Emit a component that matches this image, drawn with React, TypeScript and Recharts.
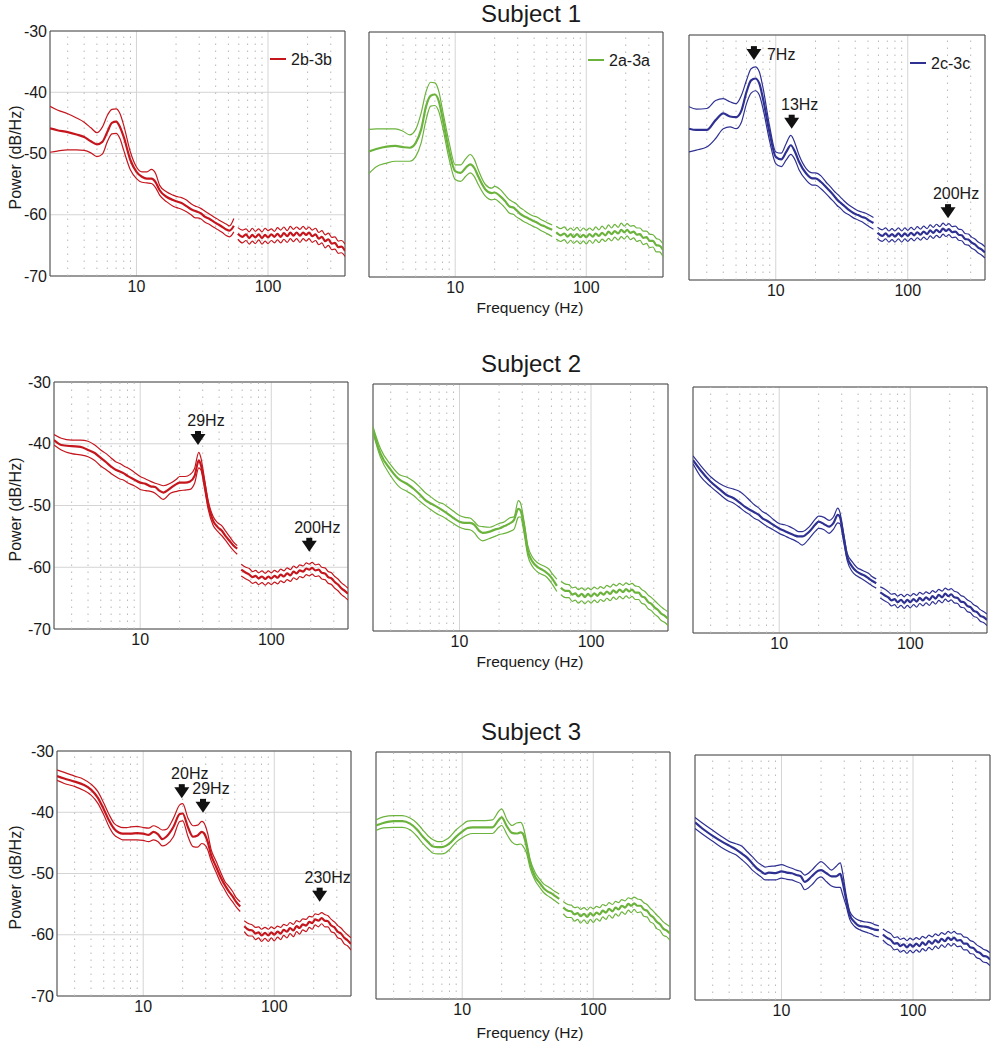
import { LineChart, Line, XAxis, YAxis, CartesianGrid, ReferenceLine, ReferenceDot, ReferenceArea } from "recharts"

const FONT = '"Liberation Sans", Arial, Helvetica, sans-serif'

// frequency grid (Hz); 57 Hz is the notch gap
const freqHz = [
  2.2, 2.5, 3, 3.5, 4, 4.5, 5, 5.5, 6, 6.5, 7, 7.5, 8, 9, 10, 11, 12, 13, 14, 15, 17, 19, 20, 22, 24, 26, 28, 29, 31, 33, 36, 39, 42, 45, 48, 51, 55,
  57,
  59, 64, 68, 72, 76, 80, 85, 90, 95, 100, 106, 112, 118, 125, 132, 140, 148, 156, 165, 175, 185, 195, 205, 217, 230, 243, 257, 272, 288, 305, 323, 342, 362, 385,
]

// Subject 1
const s1RedMean = [
  -45.9, -46.2, -46.5, -46.9, -47.3, -48.0, -48.5, -48.1, -46.5, -45.0, -44.8, -45.7, -47.3, -51.1, -53.0, -53.8, -54.1, -54.1, -54.7, -56.0, -57.1, -57.6, -57.8, -58.1, -58.6, -59.1, -59.4, -59.5, -59.8, -60.3, -60.7, -61.2, -61.6, -62.0, -62.4, -62.6, -61.8,
  null,
  -63.1, -63.6, -63.2, -63.8, -63.3, -63.7, -63.2, -63.8, -63.3, -63.7, -63.2, -63.6, -63.1, -63.6, -63.0, -63.5, -62.9, -63.4, -62.9, -63.4, -62.9, -63.3, -62.9, -63.5, -63.2, -63.9, -63.6, -64.3, -64.0, -64.7, -64.6, -65.3, -65.2, -65.9,
]
const s1RedUpper = [
  -42.3, -42.9, -43.5, -44.2, -44.9, -45.8, -46.6, -45.7, -43.8, -42.8, -42.7, -43.5, -45.4, -49.8, -52.2, -53.0, -53.0, -52.6, -53.3, -55.2, -56.3, -56.8, -57.0, -57.2, -57.6, -58.2, -58.6, -58.7, -59.0, -59.4, -59.9, -60.4, -60.8, -61.2, -61.5, -61.8, -60.6,
  null,
  -62.1, -62.5, -62.3, -62.8, -62.2, -62.7, -62.3, -62.8, -62.2, -62.6, -62.3, -62.7, -62.1, -62.5, -62.0, -62.6, -61.9, -62.4, -62.0, -62.4, -61.9, -62.4, -62.0, -62.5, -62.2, -62.9, -62.6, -63.3, -63.0, -63.7, -63.6, -64.3, -64.2, -64.8,
]
const s1RedLower = [
  -49.8, -49.6, -49.4, -49.4, -49.5, -49.9, -50.5, -50.1, -48.1, -46.8, -46.7, -47.6, -49.5, -52.7, -54.1, -54.7, -54.8, -54.9, -55.6, -56.8, -57.9, -58.6, -58.8, -59.1, -59.5, -60.0, -60.5, -60.5, -60.7, -61.2, -61.6, -62.1, -62.5, -62.9, -63.4, -63.6, -62.8,
  null,
  -64.0, -64.6, -64.2, -64.8, -64.3, -64.7, -64.1, -64.8, -64.3, -64.7, -64.2, -64.6, -64.1, -64.6, -64.0, -64.5, -63.9, -64.4, -63.9, -64.5, -63.9, -64.3, -63.9, -64.5, -64.2, -64.9, -64.6, -65.4, -65.0, -65.7, -65.6, -66.3, -66.2, -66.8,
]
const s1GreenMean = [
  -49.5, -49.1, -48.7, -48.6, -48.8, -48.9, -48.1, -45.9, -42.1, -40.4, -40.2, -41.3, -44.0, -49.5, -52.7, -53.0, -52.2, -51.6, -52.2, -53.6, -55.7, -56.3, -56.2, -56.8, -57.6, -58.5, -58.7, -59.0, -59.6, -60.0, -60.4, -60.8, -61.1, -61.5, -61.7, -62.0, -62.3,
  null,
  -62.7, -63.2, -62.9, -63.4, -63.0, -63.5, -63.0, -63.5, -63.1, -63.5, -63.0, -63.4, -62.9, -63.3, -62.8, -63.2, -62.6, -63.0, -62.5, -62.9, -62.3, -62.7, -62.3, -62.8, -62.6, -63.1, -63.0, -63.6, -63.5, -64.1, -64.1, -64.8, -64.9, -65.6,
]
const s1GreenUpper = [
  -45.9, -45.8, -45.8, -45.8, -46.2, -46.8, -45.9, -43.2, -39.7, -38.2, -38.3, -39.7, -42.7, -48.1, -51.7, -51.7, -50.7, -50.0, -50.8, -52.5, -54.9, -55.5, -55.2, -55.7, -56.6, -57.4, -57.8, -58.0, -58.6, -59.0, -59.6, -60.0, -60.2, -60.6, -60.9, -61.2, -61.5,
  null,
  -61.7, -62.1, -61.8, -62.4, -62.0, -62.4, -61.9, -62.5, -62.0, -62.4, -62.0, -62.4, -61.8, -62.3, -61.7, -62.2, -61.5, -62.0, -61.4, -61.9, -61.2, -61.7, -61.3, -61.7, -61.6, -62.0, -62.0, -62.5, -62.5, -63.0, -63.1, -63.7, -63.9, -64.6,
]
const s1GreenLower = [
  -53.1, -52.0, -51.4, -51.1, -51.1, -51.1, -50.3, -48.1, -44.3, -42.1, -42.0, -43.0, -45.4, -50.8, -54.1, -54.4, -53.6, -53.0, -53.6, -54.9, -56.8, -57.4, -57.3, -57.9, -58.7, -59.6, -59.8, -60.1, -60.5, -60.9, -61.3, -61.7, -62.0, -62.4, -62.7, -63.0, -63.4,
  null,
  -63.8, -64.2, -63.9, -64.5, -64.0, -64.5, -64.1, -64.6, -64.1, -64.6, -64.0, -64.5, -63.9, -64.4, -63.8, -64.2, -63.7, -64.1, -63.5, -64.0, -63.4, -63.8, -63.3, -63.9, -63.6, -64.2, -64.0, -64.7, -64.5, -65.2, -65.1, -65.9, -65.9, -66.7,
]
const s1BlueMean = [
  -45.3, -45.5, -45.5, -43.9, -42.8, -43.3, -43.4, -42.3, -39.3, -37.4, -37.1, -37.9, -40.4, -46.1, -49.9, -50.3, -49.1, -48.0, -49.1, -50.7, -52.6, -53.4, -53.4, -54.0, -54.8, -55.6, -56.4, -56.8, -57.4, -57.9, -58.6, -59.1, -59.4, -59.7, -59.9, -60.3, -60.7,
  null,
  -62.3, -62.8, -62.4, -62.9, -62.5, -62.9, -62.4, -62.9, -62.4, -62.8, -62.3, -62.7, -62.2, -62.6, -62.1, -62.5, -61.9, -62.3, -61.8, -62.2, -61.6, -62.0, -61.7, -62.2, -62.1, -62.6, -62.7, -63.3, -63.4, -63.9, -64.2, -64.7, -65.0, -65.5,
]
const s1BlueUpper = [
  -41.7, -42.1, -42.0, -40.7, -40.4, -40.9, -41.2, -39.8, -37.4, -35.5, -35.2, -36.0, -38.6, -45.0, -49.1, -49.3, -47.7, -46.4, -47.7, -49.6, -51.8, -52.5, -52.5, -53.0, -54.0, -54.8, -55.6, -55.9, -56.5, -57.1, -57.8, -58.3, -58.7, -58.9, -59.1, -59.4, -59.8,
  null,
  -61.4, -61.8, -61.5, -62.0, -61.6, -62.0, -61.5, -62.0, -61.5, -61.9, -61.4, -61.8, -61.3, -61.7, -61.2, -61.6, -61.0, -61.4, -60.9, -61.3, -60.7, -61.1, -60.8, -61.3, -61.2, -61.7, -61.8, -62.4, -62.5, -63.0, -63.3, -63.8, -64.1, -64.6,
]
const s1BlueLower = [
  -49.1, -48.8, -48.3, -46.9, -45.3, -45.0, -45.3, -44.2, -41.2, -39.5, -39.1, -39.8, -42.0, -47.4, -51.0, -51.5, -50.4, -49.5, -50.4, -52.0, -53.7, -54.5, -54.5, -55.1, -55.9, -56.7, -57.4, -57.8, -58.3, -58.9, -59.4, -59.9, -60.2, -60.5, -60.9, -61.3, -61.7,
  null,
  -63.2, -63.7, -63.3, -63.8, -63.4, -63.8, -63.3, -63.8, -63.3, -63.7, -63.2, -63.6, -63.1, -63.5, -63.0, -63.4, -62.8, -63.2, -62.7, -63.1, -62.5, -62.9, -62.6, -63.1, -63.0, -63.5, -63.6, -64.2, -64.3, -64.8, -65.1, -65.6, -65.9, -66.4,
]

// Subject 2
const s2RedMean = [
  -39.4, -40.2, -40.4, -40.5, -41.0, -41.5, -42.3, -43.0, -43.7, -44.2, -44.5, -44.8, -45.2, -45.8, -46.3, -46.5, -46.9, -47.0, -47.6, -47.9, -47.2, -46.5, -46.3, -46.3, -46.1, -45.2, -42.7, -43.4, -46.5, -49.8, -52.5, -53.5, -54.1, -55.0, -55.7, -56.4, -57.0,
  null,
  -60.4, -60.9, -61.2, -61.6, -61.4, -61.8, -61.5, -61.9, -61.5, -61.8, -61.4, -61.7, -61.2, -61.5, -61.0, -61.3, -60.7, -61.0, -60.5, -60.7, -60.2, -60.4, -60.1, -60.5, -60.4, -60.9, -61.0, -61.6, -61.8, -62.4, -62.8, -63.4, -63.8, -64.3,
]
const s2RedUpper = [
  -38.5, -39.1, -39.4, -39.4, -39.6, -40.2, -41.0, -41.6, -42.3, -42.9, -43.2, -43.6, -43.9, -44.6, -45.3, -45.7, -46.1, -46.4, -46.6, -46.8, -46.4, -45.7, -45.3, -45.3, -45.0, -44.0, -41.4, -42.2, -45.8, -49.2, -51.8, -52.8, -53.3, -54.2, -55.0, -55.8, -56.5,
  null,
  -59.5, -60.0, -60.2, -60.7, -60.5, -60.9, -60.6, -61.0, -60.6, -60.9, -60.5, -60.8, -60.3, -60.6, -60.1, -60.4, -59.8, -60.1, -59.6, -59.8, -59.3, -59.5, -59.2, -59.6, -59.5, -60.0, -60.1, -60.7, -60.9, -61.5, -61.9, -62.5, -62.9, -63.4,
]
const s2RedLower = [
  -40.2, -41.0, -41.6, -41.8, -42.1, -42.7, -43.6, -44.2, -44.8, -45.3, -45.7, -45.9, -46.3, -46.8, -47.4, -47.6, -47.7, -48.0, -48.6, -49.0, -48.0, -47.7, -47.6, -47.5, -47.4, -46.4, -43.9, -44.2, -47.3, -50.6, -53.2, -54.2, -54.9, -55.7, -56.5, -57.2, -57.9,
  null,
  -61.4, -61.9, -62.2, -62.6, -62.4, -62.8, -62.5, -62.9, -62.5, -62.8, -62.4, -62.7, -62.2, -62.5, -62.0, -62.3, -61.7, -62.0, -61.5, -61.7, -61.2, -61.4, -61.1, -61.5, -61.4, -61.9, -62.0, -62.6, -62.8, -63.4, -63.8, -64.4, -64.8, -65.3,
]
const s2GreenMean = [
  -37.4, -41.2, -43.9, -45.5, -46.2, -47.0, -47.9, -48.8, -49.3, -49.7, -50.1, -50.5, -50.9, -51.7, -52.3, -52.5, -52.5, -52.8, -53.7, -54.1, -53.9, -53.5, -53.4, -53.0, -52.6, -52.0, -50.2, -50.4, -53.1, -56.9, -58.8, -59.6, -60.0, -60.4, -60.9, -61.6, -62.7,
  null,
  -63.0, -63.5, -63.5, -64.1, -63.9, -64.4, -64.0, -64.5, -64.0, -64.4, -63.9, -64.3, -63.8, -64.1, -63.6, -64.0, -63.4, -63.8, -63.3, -63.7, -63.2, -63.6, -63.3, -63.8, -63.8, -64.4, -64.6, -65.3, -65.6, -66.2, -66.6, -67.2, -67.5, -68.0,
]
const s2GreenUpper = [
  -36.9, -40.4, -43.1, -44.7, -45.1, -45.8, -46.7, -47.6, -48.2, -48.8, -49.2, -49.4, -49.8, -50.6, -51.3, -51.6, -51.7, -52.3, -53.0, -53.1, -53.2, -52.8, -52.6, -52.3, -51.7, -51.5, -48.9, -49.2, -52.3, -56.1, -58.1, -58.9, -59.3, -59.6, -60.0, -60.8, -61.6,
  null,
  -62.0, -62.4, -62.5, -63.0, -62.9, -63.3, -63.0, -63.4, -63.0, -63.3, -62.9, -63.2, -62.8, -63.1, -62.6, -62.9, -62.4, -62.7, -62.3, -62.6, -62.2, -62.5, -62.3, -62.7, -62.8, -63.3, -63.6, -64.2, -64.6, -65.1, -65.6, -66.1, -66.5, -66.9,
]
const s2GreenLower = [
  -37.9, -41.8, -44.9, -46.7, -47.4, -48.1, -49.0, -49.7, -50.3, -50.8, -51.2, -51.5, -51.9, -52.6, -53.2, -53.5, -53.6, -54.1, -55.0, -55.4, -55.0, -54.6, -54.4, -54.2, -53.9, -53.5, -51.6, -51.5, -54.2, -57.7, -59.6, -60.4, -60.8, -61.1, -61.7, -62.5, -63.6,
  null,
  -64.1, -64.6, -64.6, -65.2, -65.0, -65.5, -65.1, -65.6, -65.1, -65.5, -65.0, -65.4, -64.9, -65.2, -64.7, -65.1, -64.5, -64.9, -64.4, -64.8, -64.3, -64.7, -64.4, -64.9, -64.9, -65.5, -65.7, -66.4, -66.7, -67.3, -67.7, -68.3, -68.6, -69.1,
]
const s2BlueMean = [
  -41.9, -43.5, -45.4, -46.6, -47.6, -48.1, -48.8, -49.5, -50.0, -50.4, -50.8, -51.4, -51.7, -52.4, -53.0, -53.4, -53.8, -54.1, -54.3, -54.3, -53.5, -52.3, -51.9, -52.3, -52.7, -52.1, -50.8, -51.1, -54.3, -57.6, -59.2, -60.0, -60.4, -60.7, -61.1, -61.5, -61.9,
  null,
  -63.4, -63.9, -64.2, -64.7, -64.5, -65.0, -64.6, -65.1, -64.6, -65.0, -64.5, -64.9, -64.3, -64.7, -64.2, -64.6, -64.0, -64.4, -63.8, -64.2, -63.6, -64.0, -63.7, -64.2, -64.3, -64.9, -65.0, -65.6, -65.8, -66.4, -66.6, -67.2, -67.4, -67.9,
]
const s2BlueUpper = [
  -41.2, -42.7, -44.6, -45.7, -46.3, -46.6, -47.0, -47.7, -48.5, -49.2, -49.7, -50.3, -50.6, -51.5, -52.2, -52.4, -52.7, -53.1, -53.5, -53.5, -52.7, -51.4, -51.0, -51.2, -51.7, -51.1, -49.7, -50.3, -53.8, -57.0, -58.4, -59.3, -59.7, -60.0, -60.3, -60.8, -61.2,
  null,
  -62.5, -62.9, -63.3, -63.7, -63.6, -64.0, -63.7, -64.1, -63.7, -64.0, -63.6, -63.9, -63.4, -63.7, -63.3, -63.6, -63.1, -63.4, -62.9, -63.2, -62.7, -63.0, -62.8, -63.2, -63.4, -63.9, -64.1, -64.6, -64.9, -65.4, -65.7, -66.2, -66.5, -66.9,
]
const s2BlueLower = [
  -42.5, -44.5, -46.2, -47.4, -48.4, -48.9, -49.6, -50.3, -50.8, -51.4, -51.7, -52.2, -52.6, -53.2, -53.8, -54.2, -54.6, -54.9, -55.3, -55.7, -54.6, -53.4, -53.0, -53.2, -53.8, -53.1, -52.1, -52.2, -55.1, -58.2, -60.0, -60.7, -61.1, -61.5, -61.9, -62.3, -62.7,
  null,
  -64.3, -64.8, -65.1, -65.6, -65.4, -65.9, -65.5, -66.0, -65.5, -65.9, -65.4, -65.8, -65.2, -65.6, -65.1, -65.5, -64.9, -65.3, -64.7, -65.1, -64.5, -64.9, -64.6, -65.1, -65.2, -65.8, -65.9, -66.5, -66.7, -67.3, -67.5, -68.1, -68.3, -68.8,
]

// Subject 3
const s3RedMean = [
  -34.1, -34.5, -35.0, -35.5, -36.3, -37.6, -39.5, -41.4, -42.7, -43.3, -43.5, -43.5, -43.5, -43.4, -43.5, -43.7, -43.2, -43.6, -44.4, -44.0, -42.4, -40.3, -40.2, -42.5, -44.0, -43.8, -43.2, -43.4, -44.8, -47.0, -48.9, -50.6, -51.9, -52.9, -53.7, -54.6, -55.4,
  null,
  -58.6, -59.2, -59.3, -59.8, -59.6, -60.1, -59.7, -60.1, -59.6, -60.0, -59.5, -59.8, -59.2, -59.5, -58.9, -59.3, -58.6, -58.9, -58.3, -58.5, -57.9, -58.1, -57.5, -57.7, -57.3, -57.7, -57.8, -58.5, -58.8, -59.5, -59.8, -60.5, -60.9, -61.5,
]
const s3RedUpper = [
  -33.1, -33.5, -34.1, -34.6, -35.4, -36.6, -38.5, -40.4, -41.8, -42.3, -42.5, -42.5, -42.4, -42.3, -42.5, -42.6, -42.2, -42.5, -42.9, -42.8, -41.0, -38.8, -38.6, -41.0, -42.2, -42.1, -41.5, -41.7, -43.4, -46.1, -48.0, -49.8, -51.3, -52.1, -52.9, -53.9, -54.6,
  null,
  -57.7, -58.2, -58.4, -58.8, -58.7, -59.1, -58.8, -59.1, -58.7, -59.0, -58.6, -58.8, -58.3, -58.5, -58.0, -58.3, -57.7, -57.9, -57.4, -57.5, -57.0, -57.1, -56.6, -56.7, -56.4, -56.7, -56.9, -57.5, -57.9, -58.5, -58.9, -59.5, -60.0, -60.5,
]
const s3RedLower = [
  -34.8, -35.3, -35.8, -36.4, -37.2, -38.5, -40.4, -42.4, -43.7, -44.2, -44.5, -44.5, -44.5, -44.5, -44.6, -44.8, -44.5, -44.8, -45.5, -45.3, -44.0, -41.5, -41.4, -44.0, -45.6, -45.7, -45.1, -45.2, -46.1, -47.9, -49.8, -51.5, -52.7, -53.8, -54.6, -55.4, -56.2,
  null,
  -59.5, -60.2, -60.2, -60.8, -60.5, -61.1, -60.6, -61.1, -60.5, -61.0, -60.4, -60.8, -60.1, -60.5, -59.8, -60.3, -59.5, -59.9, -59.2, -59.5, -58.8, -59.1, -58.4, -58.7, -58.2, -58.7, -58.7, -59.5, -59.7, -60.5, -60.7, -61.5, -61.8, -62.5,
]
const s3GreenMean = [
  -41.9, -41.5, -41.2, -41.2, -41.6, -42.5, -43.7, -44.6, -45.3, -45.4, -45.4, -45.2, -44.8, -43.7, -42.9, -42.3, -42.2, -42.2, -42.2, -42.2, -42.2, -41.0, -40.6, -42.1, -43.1, -43.2, -43.0, -43.2, -45.3, -48.0, -50.2, -51.2, -52.1, -52.6, -52.9, -53.3, -53.8,
  null,
  -55.2, -55.7, -55.8, -56.3, -56.1, -56.6, -56.2, -56.7, -56.1, -56.5, -56.0, -56.3, -55.7, -56.0, -55.4, -55.8, -55.2, -55.5, -54.9, -55.2, -54.6, -54.9, -54.5, -54.9, -54.9, -55.5, -55.7, -56.4, -56.8, -57.5, -57.9, -58.6, -58.9, -59.4,
]
const s3GreenUpper = [
  -41.0, -40.5, -40.3, -40.3, -40.7, -41.5, -42.6, -43.6, -44.2, -44.5, -44.5, -44.2, -43.8, -42.6, -41.8, -41.2, -41.1, -41.1, -41.1, -41.1, -41.0, -39.6, -39.2, -41.0, -41.9, -41.5, -41.4, -41.9, -44.5, -47.4, -49.5, -50.6, -51.4, -51.8, -52.2, -52.6, -53.0,
  null,
  -54.2, -54.7, -54.8, -55.2, -55.1, -55.5, -55.2, -55.6, -55.1, -55.4, -55.0, -55.2, -54.7, -54.9, -54.4, -54.7, -54.2, -54.4, -53.9, -54.1, -53.6, -53.8, -53.5, -53.8, -53.9, -54.4, -54.7, -55.3, -55.8, -56.4, -56.9, -57.5, -57.9, -58.3,
]
const s3GreenLower = [
  -42.7, -42.3, -42.2, -42.2, -42.6, -43.6, -44.8, -45.7, -46.4, -46.5, -46.5, -46.3, -45.8, -44.6, -43.9, -43.4, -43.2, -43.2, -43.2, -43.2, -43.2, -42.2, -41.9, -43.4, -44.6, -45.0, -44.9, -45.2, -46.4, -48.8, -50.8, -51.9, -52.8, -53.3, -53.7, -54.1, -54.6,
  null,
  -56.2, -56.8, -56.8, -57.4, -57.1, -57.7, -57.2, -57.8, -57.1, -57.6, -57.0, -57.4, -56.7, -57.1, -56.4, -56.9, -56.2, -56.6, -55.9, -56.3, -55.6, -56.0, -55.5, -56.0, -55.9, -56.6, -56.7, -57.5, -57.8, -58.6, -58.9, -59.7, -59.9, -60.5,
]
const s3BlueMean = [
  -41.0, -42.0, -43.2, -44.1, -44.8, -45.4, -46.1, -46.8, -47.7, -48.5, -49.0, -49.4, -49.2, -49.3, -49.0, -49.2, -49.3, -49.6, -49.8, -50.7, -49.8, -48.9, -48.8, -49.3, -49.8, -49.8, -49.4, -50.5, -53.6, -56.1, -57.3, -57.9, -58.0, -58.1, -58.3, -58.5, -58.6,
  null,
  -59.3, -59.9, -60.2, -60.8, -60.7, -61.2, -60.9, -61.4, -60.9, -61.3, -60.8, -61.2, -60.6, -61.0, -60.4, -60.8, -60.2, -60.6, -60.0, -60.4, -59.8, -60.2, -59.8, -60.3, -60.2, -60.8, -60.8, -61.4, -61.5, -62.1, -62.3, -62.8, -62.9, -63.4,
]
const s3BlueUpper = [
  -40.2, -41.1, -42.3, -43.3, -44.1, -44.5, -44.9, -45.8, -46.6, -47.4, -47.9, -48.3, -48.2, -48.1, -47.9, -48.2, -48.5, -48.8, -49.0, -49.6, -48.8, -47.7, -47.4, -48.1, -48.8, -48.2, -47.6, -48.9, -52.8, -55.5, -56.6, -57.0, -57.2, -57.3, -57.4, -57.7, -57.9,
  null,
  -58.4, -58.9, -59.2, -59.8, -59.7, -60.1, -59.9, -60.3, -59.9, -60.2, -59.8, -60.1, -59.6, -59.9, -59.4, -59.7, -59.2, -59.5, -59.0, -59.3, -58.8, -59.1, -58.8, -59.2, -59.2, -59.7, -59.8, -60.3, -60.5, -61.0, -61.3, -61.7, -61.9, -62.3,
]
const s3BlueLower = [
  -42.0, -42.9, -44.1, -45.1, -45.8, -46.3, -47.1, -47.9, -48.8, -49.4, -49.9, -50.4, -50.4, -50.4, -50.1, -50.3, -50.4, -50.7, -51.0, -52.0, -51.2, -50.1, -49.9, -50.7, -51.4, -51.6, -51.6, -52.6, -54.6, -56.8, -58.0, -58.5, -58.8, -59.0, -59.2, -59.5, -59.7,
  null,
  -60.2, -60.9, -61.2, -61.8, -61.7, -62.2, -61.9, -62.4, -61.9, -62.3, -61.8, -62.2, -61.6, -62.0, -61.4, -61.8, -61.2, -61.6, -61.0, -61.4, -60.8, -61.2, -60.8, -61.3, -61.2, -61.8, -61.8, -62.4, -62.5, -63.1, -63.3, -63.8, -63.9, -64.4,
]

// axis ticks
const freqDomain = [2.2, 385]
const majorFreqs = [10, 100]
const minorFreqs = [3, 4, 5, 6, 7, 8, 9, 20, 30, 40, 50, 60, 70, 80, 90, 200, 300]
const powerTicks = [-70, -60, -50, -40, -30]

// peak annotations (freq Hz, arrow tip dB/Hz)
const s1BlueNotes = [
  { freq: 6.83, power: -34.1, text: "7Hz", beside: true },
  { freq: 13.2, power: -45.3, text: "13Hz" },
  { freq: 202, power: -59.9, text: "200Hz" },
]
const s2RedNotes = [
  { freq: 27.6, power: -40.2, text: "29Hz" },
  { freq: 195, power: -57.5, text: "200Hz" },
]
const s3RedNotes = [
  { freq: 19.7, power: -37.7, text: "20Hz" },
  { freq: 28.6, power: -40.1, text: "29Hz" },
  { freq: 222, power: -54.6, text: "230Hz" },
]

const legendNames = ["2b-3b", "2a-3a", "2c-3c"]
const subjects = ["Subject 1", "Subject 2", "Subject 3"]

const RED = "#c5161d"
const GREEN = "#6bb33c"
const BLUE = "#2e3192"
const INK = "#1a1a1a"

const PAD_L = 60
const PAD_T = 10
const PAD_R = 10
const PAD_B = 30

type Box = { left: number; top: number; width: number; height: number }
type Note = { freq: number; power: number; text: string; beside?: boolean }

function Arrow(props: any) {
  const { cx, cy, note } = props
  const n = note as Note
  return (
    <g>
      <rect x={cx - 3} y={cy - 14} width={6} height={4} fill="#111" />
      <path d={`M${cx - 7.5},${cy - 11} L${cx + 7.5},${cy - 11} L${cx},${cy} Z`} fill="#111" />
      <text
        x={n.beside ? cx + 13 : cx + 8}
        y={n.beside ? cy : cy - 19}
        textAnchor={n.beside ? "start" : "middle"}
        fontSize={16}
        fill={INK}
      >
        {n.text}
      </text>
    </g>
  )
}

function Panel({
  box,
  mean,
  upper,
  lower,
  color,
  showY,
  notes = [],
}: {
  box: Box
  mean: (number | null)[]
  upper: (number | null)[]
  lower: (number | null)[]
  color: string
  showY: boolean
  notes?: Note[]
}) {
  const rows = freqHz.map((f, i) => ({ f, mean: mean[i], upper: upper[i], lower: lower[i] }))
  return (
    <div style={{ position: "absolute", left: box.left - PAD_L, top: box.top - PAD_T }}>
      <LineChart
        width={box.width + PAD_L + PAD_R}
        height={box.height + PAD_T + PAD_B}
        data={rows}
        margin={{ top: PAD_T, right: PAD_R, bottom: 0, left: 0 }}
      >
        <CartesianGrid stroke="#d4d4d4" strokeWidth={1} />
        {minorFreqs.map((m) => (
          <ReferenceLine key={m} x={m} stroke="#b8b8b8" strokeDasharray="1.5 5.5" />
        ))}
        <XAxis
          dataKey="f"
          type="number"
          scale="log"
          domain={freqDomain}
          allowDataOverflow
          ticks={majorFreqs}
          tickFormatter={(v) => String(v)}
          height={PAD_B}
          axisLine={false}
          tickLine={false}
          tickSize={0}
          tickMargin={5}
          tick={{ fontSize: 16, fill: INK }}
        />
        <YAxis
          type="number"
          domain={[-70, -30]}
          ticks={powerTicks}
          width={PAD_L}
          axisLine={false}
          tickLine={false}
          tickSize={0}
          tickMargin={3}
          tick={showY ? { fontSize: 16, fill: INK } : false}
        />
        <ReferenceArea x1={freqDomain[0]} x2={freqDomain[1]} y1={-70} y2={-30} fill="none" stroke="#4a4a4a" strokeWidth={1} fillOpacity={0} />
        <Line type="monotone" dataKey="upper" stroke={color} strokeWidth={1.2} dot={false} connectNulls={false} isAnimationActive={false} />
        <Line type="monotone" dataKey="lower" stroke={color} strokeWidth={1.2} dot={false} connectNulls={false} isAnimationActive={false} />
        <Line type="monotone" dataKey="mean" stroke={color} strokeWidth={2.2} dot={false} connectNulls={false} isAnimationActive={false} />
        {notes.map((n) => (
          <ReferenceDot
            key={n.text + n.freq}
            x={n.freq}
            y={n.power}
            r={0}
            ifOverflow="visible"
            shape={(p: any) => <Arrow {...p} note={n} />}
          />
        ))}
      </LineChart>
    </div>
  )
}

const boxes: Box[][] = [
  [
    { left: 50, top: 31, width: 295, height: 245 },
    { left: 369, top: 32, width: 294, height: 245 },
    { left: 689, top: 35, width: 296, height: 245 },
  ],
  [
    { left: 54, top: 382, width: 294, height: 247 },
    { left: 373, top: 384, width: 295, height: 247 },
    { left: 693, top: 387, width: 294, height: 246 },
  ],
  [
    { left: 57, top: 751, width: 294, height: 245 },
    { left: 376, top: 752, width: 294, height: 247 },
    { left: 695, top: 755, width: 295, height: 245 },
  ],
]

const titleBaselines = [22, 372, 740]
const xLabelBaselines = [313, 667, 1038]

export default function App() {
  const colors = [RED, GREEN, BLUE]
  const series = [
    [
      [s1RedMean, s1RedUpper, s1RedLower],
      [s1GreenMean, s1GreenUpper, s1GreenLower],
      [s1BlueMean, s1BlueUpper, s1BlueLower],
    ],
    [
      [s2RedMean, s2RedUpper, s2RedLower],
      [s2GreenMean, s2GreenUpper, s2GreenLower],
      [s2BlueMean, s2BlueUpper, s2BlueLower],
    ],
    [
      [s3RedMean, s3RedUpper, s3RedLower],
      [s3GreenMean, s3GreenUpper, s3GreenLower],
      [s3BlueMean, s3BlueUpper, s3BlueLower],
    ],
  ]
  const notesFor = (r: number, c: number): Note[] => {
    if (r === 0 && c === 2) return s1BlueNotes
    if (r === 1 && c === 0) return s2RedNotes
    if (r === 2 && c === 0) return s3RedNotes
    return []
  }

  return (
    <div
      style={{
        position: "absolute",
        left: 0,
        top: 0,
        width: 997,
        height: 1050,
        background: "#fff",
        fontFamily: FONT,
        overflow: "hidden",
      }}
    >
      {boxes.map((row, r) =>
        row.map((box, c) => (
          <Panel
            key={`${r}-${c}`}
            box={box}
            mean={series[r][c][0]}
            upper={series[r][c][1]}
            lower={series[r][c][2]}
            color={colors[c]}
            showY={c === 0}
            notes={notesFor(r, c)}
          />
        ))
      )}
      <svg
        width={997}
        height={1050}
        style={{ position: "absolute", left: 0, top: 0, pointerEvents: "none", fontFamily: FONT }}
      >
        {subjects.map((s, r) => (
          <text key={s} x={531} y={titleBaselines[r]} textAnchor="middle" fontSize={24} fill={INK}>
            {s}
          </text>
        ))}
        {xLabelBaselines.map((y, r) => (
          <text key={r} x={530} y={y} textAnchor="middle" fontSize={15.5} fill={INK}>
            Frequency (Hz)
          </text>
        ))}
        {boxes.map((row, r) => {
          const b = row[0]
          const cy = b.top + b.height / 2 + 4
          return (
            <text key={r} x={21} y={cy} transform={`rotate(-90 21 ${cy})`} textAnchor="middle" fontSize={16} fill={INK}>
              Power (dB/Hz)
            </text>
          )
        })}
        {boxes[0].map((b, c) => {
          const right = b.left + b.width
          const y = b.top + 28
          return (
            <g key={legendNames[c]}>
              <line x1={right - 75} x2={right - 59} y1={y} y2={y} stroke={colors[c]} strokeWidth={2} />
              <text x={right - 54} y={y + 5.5} fontSize={16} fill={INK}>
                {legendNames[c]}
              </text>
            </g>
          )
        })}
      </svg>
    </div>
  )
}
